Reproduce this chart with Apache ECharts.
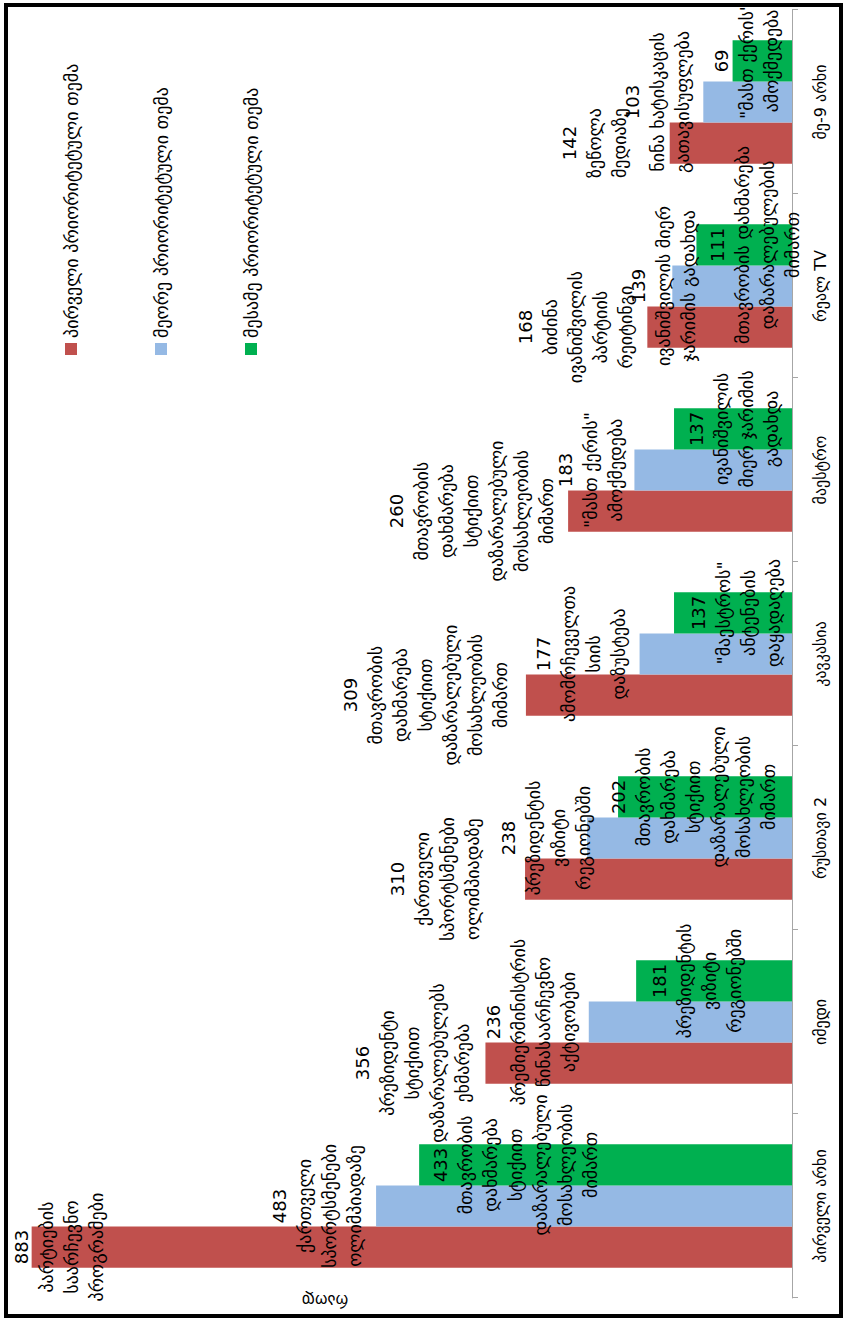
<!DOCTYPE html>
<html>
<head>
<meta charset="utf-8">
<script src="https://cdn.jsdelivr.net/npm/echarts@6/dist/echarts.min.js"></script>
<style>
  html, body { margin: 0; padding: 0; width: 849px; height: 1319px; overflow: hidden; background: #fff; }
  #chart { position: absolute; left: 0; top: 0; width: 1319px; height: 849px;
           transform-origin: 0 0; transform: translate(0px, 1319px) rotate(-90deg); }
  #frame { position: absolute; left: 4px; top: 3px; width: 839px; height: 1315px;
           box-sizing: border-box; border: 4px solid #000; pointer-events: none; z-index: 5; }
</style>
</head>
<body>
<div id="chart"></div>
<div id="frame"></div>
<script>
// ---- data ----
const categories = ['პირველი არხი', 'იმედი', 'რუსთავი 2', 'კავკასია', 'მაესტრო', 'რეალ TV', 'მე-9 არხი'];
const seriesNames = ['პირველი პრიორიტეტული თემა', 'მეორე პრიორიტეტული თემა', 'მესამე პრიორიტეტული თემა'];
const firstTopic  = [883, 356, 310, 309, 260, 168, 142];
const secondTopic = [483, 236, 238, 177, 183, 139, 103];
const thirdTopic  = [433, 181, 202, 137, 137, 111, 69];
const govHelp = 'მთავრობის\nდახმარება\nსტიქიით\nდაზარალებული\nმოსახლეობის\nმიმართ';
const firstTopicText = [
  'პარტიების\nსაარჩევნო\nპროგრამები',
  'პრეზიდენტი\nსტიქიით\nდაზარალებულებს\nეხმარება',
  'ქართველი\nსპორტსმენები\nოლიმპიადაზე',
  govHelp,
  govHelp,
  'ბიძინა\nივანიშვილის\nპარტიის\nრეიტინგი',
  'ზეწოლა\nმედიაზე'
];
const secondTopicText = [
  'ქართველი\nსპორტსმენები\nოლიმპიადაზე',
  'პრემიერმინისტრის\nწინასაარჩევნო\nაქტივობები',
  'პრეზიდენტის\nვიზიტი\nრეგიონებში',
  'ამომრჩეველთა\nსიის\nდაზუსტება',
  '"მასთ ქერის"\nამოქმედება',
  'ივანიშვილის მიერ\nჯარიმის გადახდა',
  'ნინა ხატისკაცის\nგათავისუფლება'
];
const thirdTopicText = [
  govHelp,
  'პრეზიდენტის\nვიზიტი\nრეგიონებში',
  govHelp,
  '"მაესტროს"\nანტენების\nდაყადაღება',
  'ივანიშვილის\nმიერ ჯარიმის\nგადახდა',
  'მთავრობის დახმარება\nდაზარალებულების\nმიმართ',
  '"მასთ ქერის"\nამოქმედება'
];
const axisTitle = 'რაოდ';

// ---- layout / style (not data) ----
const FONT = '"DejaVu Sans", sans-serif';
const colors = ['#C0504D', '#95B9E4', '#00B050'];
// label top offset from bar top, px
const LABEL_DY = [
  [-23, -135, -140, -188, -184, -134, -113],
  [-109, -108, -91, -109, -81, -46, -83],
  [9, 11, -12, 12, 10, 9, -24]
];

const values = [firstTopic, secondTopic, thirdTopic];
const texts = [firstTopicText, secondTopicText, thirdTopicText];

const chart = echarts.init(document.getElementById('chart'), null, { renderer: 'svg', width: 1319, height: 849 });

const series = values.map((vals, s) => ({
  name: seriesNames[s],
  type: 'bar',
  barGap: '0%',
  barCategoryGap: '33%',
  itemStyle: { color: colors[s] },
  data: vals.map((v, i) => ({ value: v, label: { position: ['50%', LABEL_DY[s][i]] } })),
  label: {
    show: true,
    align: 'center',
    verticalAlign: 'top',
    fontFamily: FONT,
    fontSize: 18,
    lineHeight: 25,
    color: '#000',
    formatter: p => p.value + '\n' + texts[s][p.dataIndex]
  },
  emphasis: { disabled: true },
  silent: true
}));

chart.setOption({
  animation: false,
  backgroundColor: '#fff',
  textStyle: { fontFamily: FONT },
  grid: { left: 21, right: 10, top: 17, bottom: 57, containLabel: false },
  legend: {
    orient: 'vertical',
    left: 959,
    top: 56,
    itemWidth: 12,
    itemHeight: 12,
    itemGap: 70,
    icon: 'rect',
    textStyle: { fontFamily: FONT, fontSize: 18, lineHeight: 20, color: '#000' },
    data: seriesNames
  },
  xAxis: {
    type: 'category',
    data: categories,
    axisLine: { show: true, lineStyle: { color: '#A6A6A6', width: 1 } },
    axisTick: { show: true, length: 6, lineStyle: { color: '#A6A6A6' } },
    axisLabel: { fontFamily: FONT, fontSize: 16, color: '#000', margin: 20 }
  },
  yAxis: {
    type: 'value',
    min: 0,
    max: 900,
    axisLine: { show: false },
    axisTick: { show: false },
    axisLabel: { show: false },
    splitLine: { show: false }
  },
  graphic: [{
    type: 'text',
    x: 19,
    y: 325,
    rotation: Math.PI / 2,
    style: { text: axisTitle, fontFamily: FONT, fontSize: 16, fill: '#000', align: 'center', verticalAlign: 'middle' }
  }],
  series: series
});
</script>
</body>
</html>
